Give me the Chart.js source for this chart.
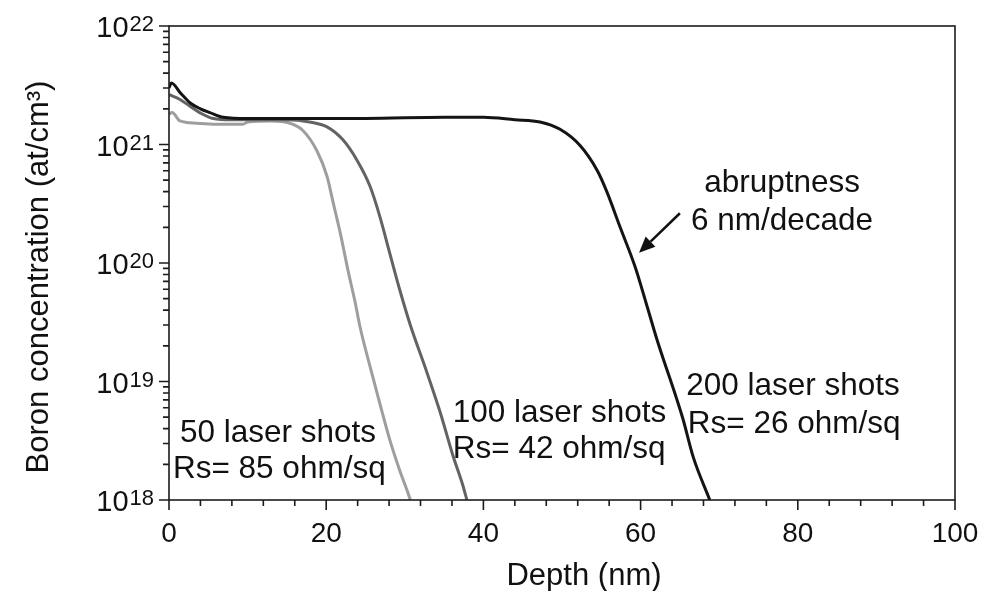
<!DOCTYPE html>
<html>
<head>
<meta charset="utf-8">
<script src="https://cdn.jsdelivr.net/npm/chart.js@4"></script>
<style>
  body { margin: 0; background: #fff; }
  #boronGraph { display: block; }
</style>
</head>
<body>
<canvas id="boronGraph" width="986" height="591"></canvas>
<script>
// 200 laser shots (black)
const depth200 = [0, 0.3, 1.5, 2.7, 4, 5.2, 6.9, 10, 16, 25, 35, 40, 44, 47.2, 49.7, 52.3, 54.5, 55.7, 57.4, 59.3, 60.7, 62.1, 64.6, 65.4, 66.7, 68.8];
const boron200 = [3.0e21, 3.3e21, 2.7e21, 2.24e21, 2.0e21, 1.86e21, 1.7e21, 1.66e21, 1.66e21, 1.66e21, 1.7e21, 1.7e21, 1.62e21, 1.55e21, 1.35e21, 9.8e20, 6.0e20, 4.0e20, 2.0e20, 9.3e19, 4.6e19, 2.24e19, 7.1e18, 4.8e18, 2.3e18, 1.0e18];

// 100 laser shots (mid grey)
const depth100 = [0, 1.4, 2.5, 3.9, 5.6, 8, 12, 15, 17.9, 20.1, 22.1, 23.9, 25.6, 26.8, 28.1, 29.4, 30.7, 32.8, 34.5, 36.1, 37.4, 37.9];
const boron100 = [2.63e21, 2.4e21, 2.14e21, 1.86e21, 1.66e21, 1.62e21, 1.62e21, 1.62e21, 1.55e21, 1.41e21, 1.1e21, 7.4e20, 4.4e20, 2.5e20, 1.2e20, 5.8e19, 3.0e19, 1.2e19, 5.5e18, 2.4e18, 1.32e18, 1.0e18];

// 50 laser shots (light grey)
const depth50 = [0, 0.4, 1.4, 3.5, 6, 9.4, 10, 13, 15.4, 17.0, 18.8, 20.1, 20.9, 21.8, 22.8, 23.7, 24.3, 25.6, 26.8, 28.1, 29.4, 30.3, 30.7];
const boron50 = [1.8e21, 1.86e21, 1.58e21, 1.51e21, 1.48e21, 1.48e21, 1.55e21, 1.58e21, 1.51e21, 1.32e21, 8.9e20, 5.4e20, 3.2e20, 1.78e20, 8.5e19, 4.6e19, 2.9e19, 1.32e19, 6.6e18, 3.2e18, 1.74e18, 1.2e18, 1.0e18];

const xTickLabels = ['0', '20', '40', '60', '80', '100'];
const yDecades = [18, 19, 20, 21, 22];

// annotations, in data units: [text, depth, concentration, align]
const notes = [
  ['abruptness', 78, 4.0e20, 'center'],
  ['6 nm/decade', 78, 1.9e20, 'center'],
  ['200 laser shots', 65.8, 7.7e18, 'left'],
  ['Rs= 26 ohm/sq', 66.0, 3.67e18, 'left'],
  ['100 laser shots', 36.1, 4.57e18, 'left'],
  ['Rs= 42 ohm/sq', 36.1, 2.26e18, 'left'],
  ['50 laser shots', 1.4, 3.1e18, 'left'],
  ['Rs= 85 ohm/sq', 0.5, 1.53e18, 'left']
];
const arrowFrom = [65.0, 2.63e20];
const arrowTo = [59.8, 1.22e20];

function pts(xs, ys) {
  return xs.map((x, i) => ({x: x, y: ys[i]}));
}

const FONT = '"Liberation Sans", Arial, sans-serif';
const INK = '#111';

const decorPlugin = {
  id: 'decor',
  afterDraw(chart) {
    const ctx = chart.ctx;
    const a = chart.chartArea;
    const xs = chart.scales.x;
    const ys = chart.scales.y;
    ctx.save();
    ctx.strokeStyle = '#1c1c1c';
    ctx.lineWidth = 1.6;
    // frame
    ctx.strokeRect(a.left, a.top, a.right - a.left, a.bottom - a.top);

    // x ticks
    ctx.beginPath();
    for (let v = 0; v <= 100; v += 4) {
      const px = xs.getPixelForValue(v);
      const len = v % 20 === 0 ? 10 : 6;
      ctx.moveTo(px, a.bottom);
      ctx.lineTo(px, a.bottom + len);
    }
    // y ticks
    for (let d = 18; d < 22; d++) {
      for (let m = 1; m < 10; m++) {
        const py = ys.getPixelForValue(m * Math.pow(10, d));
        const len = m === 1 ? 10 : 6;
        ctx.moveTo(a.left, py);
        ctx.lineTo(a.left - len, py);
      }
    }
    const ptop = ys.getPixelForValue(1e22);
    ctx.moveTo(a.left, ptop);
    ctx.lineTo(a.left - 10, ptop);
    ctx.stroke();

    ctx.fillStyle = INK;
    // x tick labels
    ctx.font = '28px ' + FONT;
    ctx.textAlign = 'center';
    ctx.textBaseline = 'alphabetic';
    xTickLabels.forEach((t, i) => {
      ctx.fillText(t, xs.getPixelForValue(i * 20), a.bottom + 42);
    });

    // y tick labels 10^n
    yDecades.forEach(d => {
      const py = ys.getPixelForValue(Math.pow(10, d));
      ctx.textAlign = 'right';
      ctx.font = '22px ' + FONT;
      const sup = String(d);
      const supW = ctx.measureText(sup).width;
      const right = a.left - 15;
      ctx.fillText(sup, right, py + 5);
      ctx.font = '29px ' + FONT;
      ctx.fillText('10', right - supW - 1, py + 11);
    });

    // axis titles
    ctx.font = '31px ' + FONT;
    ctx.textAlign = 'center';
    ctx.fillText('Depth (nm)', 584, 585);
    ctx.save();
    ctx.translate(48, 277);
    ctx.rotate(-Math.PI / 2);
    ctx.fillText('Boron concentration (at/cm³)', 0, 0);
    ctx.restore();

    // annotations
    ctx.font = '31.5px ' + FONT;
    notes.forEach(n => {
      ctx.textAlign = n[3];
      ctx.fillText(n[0], xs.getPixelForValue(n[1]), ys.getPixelForValue(n[2]));
    });

    // arrow
    const x0 = xs.getPixelForValue(arrowFrom[0]), y0 = ys.getPixelForValue(arrowFrom[1]);
    const x1 = xs.getPixelForValue(arrowTo[0]), y1 = ys.getPixelForValue(arrowTo[1]);
    const ang = Math.atan2(y1 - y0, x1 - x0);
    const head = 16, half = 7;
    const bx = x1 - head * Math.cos(ang), by = y1 - head * Math.sin(ang);
    ctx.strokeStyle = INK;
    ctx.lineWidth = 2.5;
    ctx.beginPath();
    ctx.moveTo(x0, y0);
    ctx.lineTo(bx, by);
    ctx.stroke();
    ctx.beginPath();
    ctx.moveTo(x1, y1);
    ctx.lineTo(bx + half * Math.sin(ang), by - half * Math.cos(ang));
    ctx.lineTo(bx - half * Math.sin(ang), by + half * Math.cos(ang));
    ctx.closePath();
    ctx.fill();
    ctx.restore();
  }
};

const ctx = document.getElementById('boronGraph').getContext('2d');
const chart = new Chart(ctx, {
  type: 'line',
  data: {
    datasets: [
      { label: '200 laser shots', data: pts(depth200, boron200), borderColor: '#141414', borderWidth: 3, order: 1 },
      { label: '100 laser shots', data: pts(depth100, boron100), borderColor: '#636363', borderWidth: 3, order: 2 },
      { label: '50 laser shots', data: pts(depth50, boron50), borderColor: '#9e9e9e', borderWidth: 3, order: 3 }
    ]
  },
  options: {
    responsive: false,
    animation: false,
    layout: { padding: { top: 26, right: 31, left: 0, bottom: 0 } },
    elements: {
      point: { radius: 0 },
      line: { cubicInterpolationMode: 'monotone', fill: false }
    },
    plugins: {
      legend: { display: false },
      tooltip: { enabled: false }
    },
    scales: {
      x: {
        type: 'linear',
        min: 0,
        max: 100,
        ticks: { display: false },
        grid: { display: false },
        border: { display: false },
        afterFit(scale) { scale.height = 91; }
      },
      y: {
        type: 'logarithmic',
        min: 1e18,
        max: 1e22,
        ticks: { display: false },
        grid: { display: false },
        border: { display: false },
        afterFit(scale) { scale.width = 169; }
      }
    }
  },
  plugins: [decorPlugin]
});
</script>
</body>
</html>
